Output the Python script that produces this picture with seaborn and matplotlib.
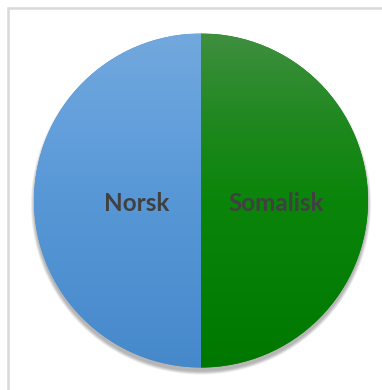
import numpy as np
import matplotlib
matplotlib.use("Agg")
import matplotlib.pyplot as plt
import seaborn as sns
from matplotlib.colors import LinearSegmentedColormap
from matplotlib.patches import Rectangle, Circle

categories = ["Norsk", "Somalisk"]
values = [50, 50]
# gradient stops (bottom -> top)
blue_stops = ["#4689cb", "#5797d6", "#64a0dc", "#72a8dd"]
green_stops = ["#007800", "#0a850a", "#1f881f", "#3f8f3f"]
stop_pos = [0.0, 0.5, 0.74, 1.0]

sns.set_theme(style="white")
plt.rcParams['font.family'] = ['Lato', 'DejaVu Sans']

W, H = 382, 390
fig = plt.figure(figsize=(W / 100, H / 100), dpi=100)
fig.patch.set_facecolor("white")
ax = fig.add_axes([0, 0, 1, 1])

cx, cy, R = 201, 200.5, 167.0

# frame
fig.patches.append(Rectangle((8 / W, -0.1), 1.2, (H - 8) / H + 0.1, transform=fig.transFigure,
                             fill=False, edgecolor="#d9d9d9", linewidth=1.8, zorder=0))

# soft shadow
for i in range(8):
    ax.add_patch(Circle((0, -4.0 / R), 1 + (i * 0.45) / R, color="black",
                        alpha=0.04, lw=0, zorder=1))

wedges, _ = ax.pie(values, labels=None, startangle=90, counterclock=True,
                   colors=[blue_stops[0], green_stops[0]], radius=1.0, center=(0, 0),
                   wedgeprops=dict(linewidth=0, zorder=2), frame=False)
ax.set_xlim(-cx / R, (W - cx) / R)
ax.set_ylim(-(H - cy) / R, cy / R)
ax.set_aspect("auto")
ax.set_axis_off()

grad = np.linspace(0, 1, 256).reshape(-1, 1)
for w, stops in zip(wedges, [blue_stops, green_stops]):
    cmap = LinearSegmentedColormap.from_list("g", list(zip(stop_pos, stops)))
    im = ax.imshow(grad, cmap=cmap, extent=(-1, 1, -1, 1), origin="lower",
                   aspect="auto", zorder=3, interpolation="bilinear")
    im.set_clip_path(w)

label_x = [-64 / R, 75 / R]
for lab, lx in zip(categories, label_x):
    ax.text(lx, -2.5 / R, lab, ha="center", va="center", fontsize=17.5,
            fontweight="bold", color="#404040", zorder=5)

fig.savefig("out.png", dpi=100)
